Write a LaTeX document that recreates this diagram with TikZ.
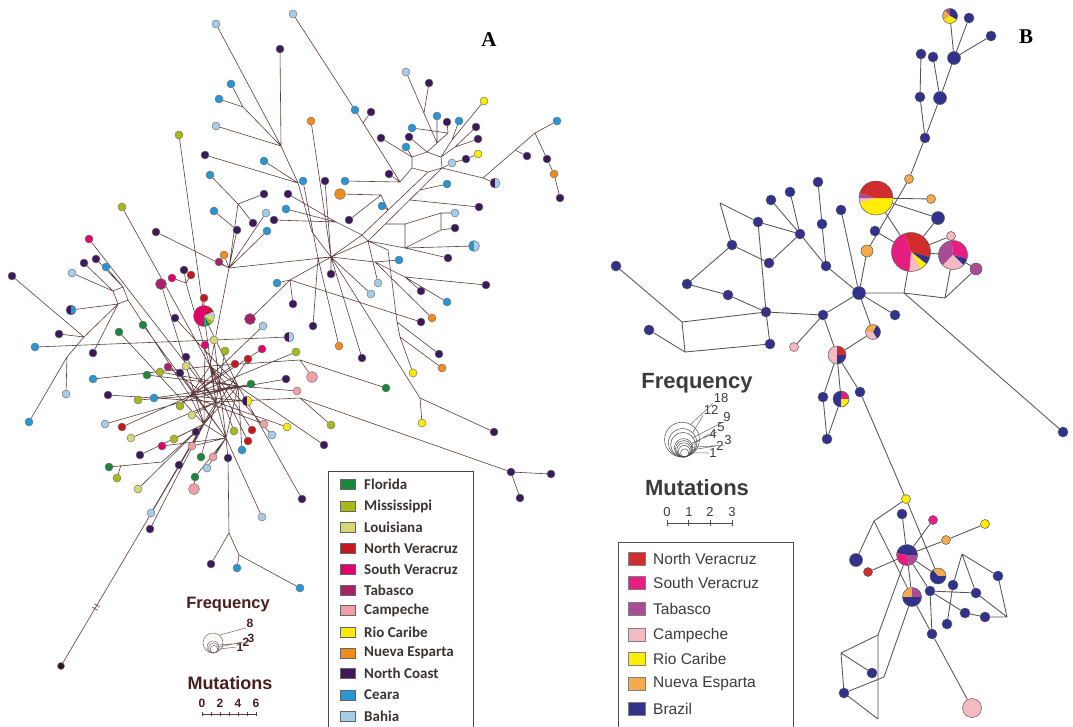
\documentclass[tikz,border=0pt]{standalone}
\usepackage{fontspec}
\setmainfont{Liberation Sans}
\newfontfamily\calib{Carlito}
\newfontfamily\serf{Liberation Serif}
\pgfdeclarelayer{paper}
\pgfdeclarelayer{bg}
\pgfsetlayers{paper,bg,main}
\definecolor{cFL}{RGB}{25,135,60}
\definecolor{cMS}{RGB}{170,185,25}
\definecolor{cLA}{RGB}{215,215,120}
\definecolor{cNV}{RGB}{195,25,30}
\definecolor{cSV}{RGB}{225,0,105}
\definecolor{cTB}{RGB}{165,35,100}
\definecolor{cCP}{RGB}{240,160,165}
\definecolor{cRC}{RGB}{250,235,0}
\definecolor{cNE}{RGB}{240,140,30}
\definecolor{cNC}{RGB}{60,25,90}
\definecolor{cCE}{RGB}{40,150,210}
\definecolor{cBA}{RGB}{165,205,235}
\definecolor{cDK}{RGB}{50,20,20}
\definecolor{bNV}{RGB}{210,45,45}
\definecolor{bSV}{RGB}{230,30,130}
\definecolor{bTB}{RGB}{170,75,150}
\definecolor{bCP}{RGB}{245,185,195}
\definecolor{bRC}{RGB}{255,238,0}
\definecolor{bNE}{RGB}{245,170,75}
\definecolor{bBR}{RGB}{50,50,140}
\definecolor{Aline}{RGB}{95,60,60}
\definecolor{Bline}{RGB}{85,85,85}
\definecolor{legAtext}{RGB}{60,52,52}
\definecolor{legBtext}{RGB}{60,60,60}
\definecolor{freqA}{RGB}{75,30,30}
\newcommand\hp[4]{\node[hap,fill=#4] (#1) at (#2,#3) {};}
\newcommand\hpb[5]{\node[hap,fill=#4,minimum size=#5pt] (#1) at (#2,#3) {};}
\newcommand\pienode[4]{\node[hap,fill=none,minimum size=#4pt] (#1) at (#2,#3) {};}
\newcommand\wedgeP[6]{\fill[#6] (#1,#2) -- ++(#4:#3) arc[start angle=#4,end angle=#5,radius=#3] -- cycle;}
\newcommand\bp[3]{\node[bhap] (#1) at (#2,#3) {};}
\newcommand\bpb[5]{\node[bhap,fill=#4,minimum size=#5pt] (#1) at (#2,#3) {};}
\newcommand\bpie[4]{\node[bhap,fill=none,minimum size=#4pt] (#1) at (#2,#3) {};}
\begin{document}
\begin{tikzpicture}[x=1pt,y=-1pt,
 hap/.style={circle,draw=black!55,line width=0.45pt,inner sep=0pt,minimum size=8pt},
 bhap/.style={circle,draw=black!65,line width=0.5pt,inner sep=0pt,minimum size=10pt,fill=bBR},
 aedge/.style={draw=Aline,line width=0.6pt},
 bedge/.style={draw=Bline,line width=0.85pt},
 legA/.style={font=\calib\bfseries\fontsize{15}{17}\selectfont,text=legAtext,anchor=west,inner sep=0pt},
 legB/.style={font=\fontsize{15.5}{18}\selectfont,text=legBtext,anchor=west,inner sep=0pt},
 swA/.style={draw=black!60,line width=0.5pt,minimum width=15pt,minimum height=10pt,inner sep=0pt},
 swB/.style={draw=black!50,line width=0.5pt,minimum width=17pt,minimum height=13pt,inner sep=0pt},
 fcA/.style={circle,draw=Aline!80,line width=0.5pt,inner sep=0pt,fill=none},
 fcB/.style={circle,draw=black!70,line width=0.5pt,inner sep=0pt,fill=none},
 fnA/.style={font=\bfseries\fontsize{12}{13}\selectfont,text=freqA,inner sep=0.3pt},
 fnB/.style={font=\fontsize{13}{14}\selectfont,text=legBtext,inner sep=0.3pt}
]
\useasboundingbox (0,0) rectangle (1073,726);
\begin{pgfonlayer}{paper}
\fill[white] (0,0) rectangle (1073,726);
\end{pgfonlayer}

% ================= PANEL A nodes =================
\hp{t1}{216}{24}{cBA}
\hp{t2}{293}{14}{cBA}
\hp{t3}{280}{49}{cNC}
\hp{t4}{231}{84}{cCE}
\hp{t5}{219}{99}{cCE}
\hp{t6}{216}{126}{cBA}
\hp{t7}{179}{135}{cMS}
\hp{t8}{205}{155}{cNC}
\hp{t9}{264}{161}{cCE}
\hp{t10}{210}{175}{cCE}
\hp{t11}{264}{194}{cNC}
\hp{t12}{288}{194}{cNC}
\hp{t13}{303}{181}{cCE}
\hp{t14}{325}{181}{cNC}
\hp{t15}{345}{181}{cCE}
\hpb{t16}{340}{194}{cNE}{11}
\hp{t17}{311}{121}{cNE}
\hp{t18}{355}{110}{cCE}
\hp{t19}{371}{112}{cNC}
\hp{t20}{406}{72}{cBA}
\hp{t21}{429}{83}{cNC}
\hp{t22}{484}{101}{cRC}
\hp{t23}{437}{116}{cCE}
\hp{t24}{447}{122}{cNC}
\hp{t25}{459}{121}{cCE}
\hp{t26}{476}{127}{cNC}
\hp{t27}{478}{139}{cNC}
\hp{t28}{478}{154}{cRC}
\hp{t29}{466}{159}{cNC}
\hp{t30}{452}{163}{cBA}
\hp{t31}{412}{128}{cCE}
\hp{t32}{409}{137}{cNC}
\hp{t33}{381}{138}{cNC}
\hp{t34}{406}{147}{cCE}
\hp{t35}{389}{174}{cNC}
\hp{t36}{447}{184}{cCE}
\hp{t37}{382}{206}{cCE}
\hp{t38}{349}{220}{cNC}
\hp{t39}{479}{207}{cNC}
\hp{t40}{455}{213}{cBA}
\hp{t41}{455}{228}{cNC}
\wedgeP{474}{246}{5.5}{90}{270}{cCE}
\wedgeP{474}{246}{5.5}{270}{450}{cBA}
\pienode{t42}{474}{246}{11}
\hp{t43}{399}{260}{cCE}
\hp{t44}{448}{258}{cNC}
\hp{t45}{486}{285}{cNC}
\hp{t46}{421}{291}{cNC}
\hp{t47}{447}{302}{cCE}
\hp{t48}{421}{322}{cNC}
\hp{t49}{432}{318}{cNE}
\hp{t50}{378}{283}{cBA}
\hp{t51}{371}{294}{cBA}
\hp{t52}{331}{274}{cNC}
\hp{t53}{293}{304}{cNC}
\hp{t54}{313}{326}{cNC}
\hp{t55}{339}{346}{cNE}
\hp{t56}{362}{358}{cNC}
\hp{t57}{439}{354}{cNC}
\hp{t58}{442}{368}{cNE}
\hp{t59}{413}{373}{cRC}
\hp{t60}{386}{388}{cFL}
\hp{t61}{331}{425}{cMS}
\hp{t62}{324}{445}{cNC}
\hp{t63}{422}{423}{cRC}
\hp{t64}{494}{432}{cNC}
\hp{t65}{511}{472}{cNC}
\hp{t66}{551}{474}{cNC}
\hp{t67}{520}{498}{cNC}
\wedgeP{495}{183}{5}{90}{270}{cNC}
\wedgeP{495}{183}{5}{270}{450}{cBA}
\pienode{t68}{495}{183}{10}
\hp{t69}{527}{156}{cNC}
\hp{t70}{557}{121}{cCE}
\hp{t71}{547}{159}{cNC}
\hp{t72}{554}{174}{cNE}
\hp{t73}{560}{198}{cNC}
\hp{t74}{214}{211}{cCE}
\hp{t75}{266}{213}{cBA}
\hp{t76}{286}{209}{cCE}
\hp{t77}{274}{220}{cNC}
\hp{t78}{253}{223}{cNC}
\hp{t79}{237}{230}{cNC}
\hp{t80}{267}{231}{cCE}
\hp{t81}{156}{232}{cNC}
\hp{t82}{122}{207}{cMS}
\hp{t83}{224}{255}{cNE}
\hp{t84}{219}{262}{cTB}
\hp{t85}{89}{239}{cSV}
\hp{t86}{84}{263}{cNC}
\hp{t87}{96}{259}{cNC}
\hp{t88}{106}{267}{cCE}
\hp{t89}{72}{273}{cBA}
\hp{t90}{12}{276}{cNC}
\wedgeP{71}{310}{5}{90}{270}{cNC}
\wedgeP{71}{310}{5}{270}{450}{cCE}
\pienode{t91}{71}{310}{10}
\hp{t92}{59}{334}{cNC}
\hp{t93}{35}{347}{cCE}
\hp{t94}{93}{353}{cNC}
\hpb{t95}{161}{284}{cTB}{11}
\hp{t96}{172}{278}{cSV}
\hp{t97}{184}{270}{cNC}
\hp{t98}{191}{275}{cNV}
\hp{t99}{204}{298}{cNV}
\wedgeP{204}{316}{10.5}{110}{300}{cSV}
\wedgeP{204}{316}{10.5}{300}{335}{cNV}
\wedgeP{204}{316}{10.5}{335}{360}{cBA}
\wedgeP{204}{316}{10.5}{0}{30}{cLA}
\wedgeP{204}{316}{10.5}{30}{55}{cMS}
\wedgeP{204}{316}{10.5}{55}{75}{cFL}
\wedgeP{204}{316}{10.5}{75}{90}{cCE}
\wedgeP{204}{316}{10.5}{90}{110}{cNV}
\pienode{tP}{204}{316}{21}
\hpb{t100}{250}{319}{cTB}{11}
\hp{t101}{175}{318}{cNC}
\hp{t102}{143}{325}{cFL}
\hp{t103}{119}{332}{cFL}
\hp{t104}{263}{326}{cBA}
\wedgeP{289}{337}{5}{90}{270}{cNC}
\wedgeP{289}{337}{5}{270}{450}{cBA}
\pienode{t105}{289}{337}{10}
\hp{t106}{205}{345}{cSV}
\hp{t107}{214}{340}{cLA}
\hp{t108}{225}{351}{cMS}
\hp{t109}{262}{349}{cSV}
\hp{t110}{296}{352}{cMS}
\hp{t111}{186}{357}{cNC}
\hp{t112}{248}{359}{cNV}
\hp{t113}{235}{364}{cNV}
\hp{t114}{277}{283}{cCE}
\hp{t115}{168}{367}{cTB}
\hp{t116}{147}{375}{cFL}
\hp{t117}{160}{372}{cMS}
\hp{t118}{180}{373}{cNC}
\hp{t119}{186}{366}{cLA}
\hp{t120}{93}{379}{cCE}
\hp{t121}{108}{395}{cNC}
\hp{t122}{138}{400}{cMS}
\hp{t123}{154}{398}{cCE}
\hp{t124}{180}{406}{cMS}
\hp{t125}{192}{415}{cLA}
\hp{t126}{66}{394}{cBA}
\hp{t127}{29}{422}{cCE}
\hp{t128}{105}{424}{cBA}
\hp{t129}{122}{427}{cNV}
\hp{t130}{131}{438}{cLA}
\hp{t131}{174}{439}{cMS}
\hp{t132}{196}{432}{cNC}
\hp{t133}{192}{446}{cCP}
\hp{t134}{162}{446}{cSV}
\hp{t135}{140}{455}{cNC}
\hp{t136}{201}{457}{cFL}
\hp{t137}{213}{457}{cCP}
\hp{t138}{228}{458}{cNC}
\hp{t139}{179}{465}{cNC}
\hp{t140}{207}{468}{cBA}
\hp{t141}{109}{467}{cFL}
\hp{t142}{117}{478}{cMS}
\hp{t143}{195}{477}{cFL}
\hpb{t144}{194}{489}{cCP}{11}
\hp{t145}{138}{489}{cLA}
\hp{t146}{151}{513}{cBA}
\hp{t147}{150}{529}{cNC}
\hp{t148}{251}{384}{cFL}
\hp{t149}{286}{379}{cNC}
\hpb{t150}{312}{377}{cCP}{11}
\hp{t151}{297}{391}{cCP}
\wedgeP{247}{401}{5}{90}{270}{cNC}
\wedgeP{247}{401}{5}{270}{450}{cRC}
\pienode{t152}{247}{401}{10}
\hp{t153}{234}{431}{cMS}
\hp{t154}{252}{430}{cNV}
\hp{t155}{264}{424}{cCP}
\hp{t156}{272}{435}{cBA}
\hp{t157}{287}{427}{cRC}
\hp{t158}{248}{441}{cNV}
\hp{t159}{242}{450}{cCE}
\hp{t160}{302}{499}{cNC}
\hp{t161}{262}{517}{cBA}
\hp{t162}{211}{564}{cNC}
\hp{t163}{237}{568}{cCE}
\hp{t164}{300}{588}{cCE}
\hpb{t165}{61}{666}{cDK}{7}

% junctions A
\coordinate (jA) at (281,146); \coordinate (jB) at (243,107);
\coordinate (jC) at (298,183); \coordinate (jD) at (312,232);
\coordinate (jD2) at (318,258); \coordinate (H0) at (331,257);
\coordinate (jI) at (400,182); \coordinate (j366) at (363,123);
\coordinate (jJ) at (238,204); \coordinate (jK) at (229,268);
\coordinate (jM) at (336,222); \coordinate (jL2) at (381,195);
\coordinate (jL) at (388,210);
\coordinate (L1) at (412,157); \coordinate (L2) at (427,152);
\coordinate (L3) at (441,157); \coordinate (L4) at (442,168);
\coordinate (L5) at (428,172); \coordinate (L6) at (412,168);
\coordinate (jE) at (362,235); \coordinate (jE2) at (368,241);
\coordinate (p420) at (420,190); \coordinate (p410) at (410,200);
\coordinate (p385) at (385,224); \coordinate (jT) at (405,224);
\coordinate (jS1) at (441,213); \coordinate (jS2) at (441,230);
\coordinate (jQ) at (405,248); \coordinate (jU) at (405,277);
\coordinate (jV) at (375,262); \coordinate (jX1) at (388,250);
\coordinate (jX2) at (397,322); \coordinate (jX3) at (400,337);
\coordinate (jY) at (420,398); \coordinate (jN) at (290,280);
\coordinate (jF) at (300,360); \coordinate (jG) at (300,398);
\coordinate (jU1) at (437,143); \coordinate (j424) at (424,113);
\coordinate (jU3) at (448,133); \coordinate (jU4) at (452,140);
\coordinate (jU5) at (455,147); \coordinate (jR1) at (483,178);
\coordinate (jR2) at (535,133); \coordinate (p515) at (515,150);
\coordinate (ul2) at (84,337); \coordinate (ul3) at (67,357);
\coordinate (ulA) at (113,291); \coordinate (ulB) at (123,287);
\coordinate (ulC) at (128,300); \coordinate (ulD) at (118,304);
\coordinate (j186) at (186,283);
\coordinate (hL) at (190,396); \coordinate (hR) at (238,386);
\coordinate (hU) at (210,366); \coordinate (hD) at (204,424);
\coordinate (hD2) at (226,438); \coordinate (hC) at (216,402);
\coordinate (jFL) at (162,462);
\coordinate (j120) at (121,465); \coordinate (jBot1) at (229,533);
\coordinate (jBot2) at (239,555);

\begin{pgfonlayer}{bg}
\draw[aedge]
(t1)--(jA) (t3)--(jA) (t4)--(jB) (t5)--(jB) (jB)--(jA) (t6)--(jA) (jA)--(jC) (t8)--(jC) (t9)--(jC) (jC)--(jD) (jD)--(H0)
(t13)--(jD2) (jD2)--(H0) (t14)--(H0) (t17)--(H0)
(t2)--(t18) (t18)--(jI) (t19)--(j366) (t15)--(jI) (t35)--(jI) (jI)--(L6)
(t7)--(hC)
(t10)--(jJ) (t11)--(jJ) (t78)--(jJ) (jJ)--(jK)
(t12)--(jM) (jM)--(jE) (t76)--(jM) (t77)--(jM)
(t74)--(t79) (t79)--(jK) (t75)--(jK) (t80)--(jK)
(t16)--(jL2) (t38)--(jL2) (jL2)--(jL) (t37)--(jL)
(L1)--(L2)--(L3)--(L4)--(L5)--(L6)--(L1)
(L5)--(jE) (L4)--(jE2) (jE)--(H0) (jE2)--(H0) (jE)--(jE2)
(t36)--(p420) (t39)--(p410) (jT)--(p385)
(jS1)--(jT) (t40)--(jS1) (t41)--(jS2) (jS1)--(jS2) (jS2)--(jQ) (jT)--(jQ) (t42)--(jQ) (t44)--(jQ) (jQ)--(jE2)
(t43)--(jV) (t49)--(jV) (jU)--(jV) (t45)--(jU) (t46)--(jU) (t47)--(jU) (jV)--(H0)
(t50)--(jE2) (t51)--(H0) (t52)--(H0)
(jX1)--(jE2) (jX1)--(jX2) (jX2)--(jX3) (jX3)--(t59) (jX2)--(t57) (jX3)--(t58)
(H0)--(jY) (jY)--(t63) (jY)--(t64)
(t48)--(jN) (t53)--(jN) (t114)--(jN) (jN)--(H0) (t100)--(jN)
(t54)--(jD2) (t55)--(jD2) (t56)--(H0)
(t60)--(jF) (jF)--(hU) (t150)--(jF)
(t65)--(jG) (jG)--(hC) (t61)--(jG) (t62)--(hR) (t66)--(t65) (t67)--(t65)
(t20)--(jU1) (t21)--(j424) (t23)--(jU1) (t31)--(jU3) (t24)--(jU3) (jU3)--(jU1) (t25)--(jU4) (t22)--(jU4) (jU4)--(L3) (t26)--(jU5) (jU5)--(L3) (t27)--(jU5) (jU1)--(L2) (t32)--(L2) (t33)--(L1) (t34)--(L1)
(t30)--(L4) (t29)--(t30) (t28)--(t29)
(t68)--(jR1) (jR1)--(L4) (jR1)--(jR2) (jR2)--(t70) (t69)--(p515) (t71)--(jR2) (t71)--(t72) (t72)--(t73)
(t90)--(ul2) (t92)--(ul2) (ul2)--(ul3) (ul3)--(t127) (ul3)--(t126) (ul2)--(ulD)
(ulA)--(ulB)--(ulC)--(ulD)--(ulA)
(t89)--(ulA) (t86)--(ulA) (t87)--(ulB) (t88)--(ulB) (t91)--(ulD) (t94)--(ulD) (ulC)--(hL)
(t85)--(hC) (t82)--(hU) (t81)--(jK)
(t95)--(hD) (t96)--(j186) (t97)--(j186) (t98)--(j186) (j186)--(hU) (t99)--(tP) (tP)--(hR)
(t101)--(hR) (t102)--(hD2) (t103)--(hD) (t93)--(t105)
(t104)--(hL) (t106)--(hD) (t107)--(hD2) (t108)--(hC) (t109)--(hL) (t110)--(hL) (t111)--(hC) (t112)--(hD) (t113)--(hL) (t115)--(hC) (t116)--(hR) (t117)--(hR) (t118)--(hD2) (t119)--(hD) (t120)--(hU) (t121)--(hC) (t122)--(hL) (t123)--(hR) (t124)--(hL) (t125)--(hC) (t128)--(hR) (t129)--(hL) (t130)--(hC) (t131)--(hD) (t132)--(hD) (t133)--(hD2) (t134)--(hD2) (t135)--(hD) (t136)--(hC) (t137)--(hD2) (t138)--(hD2) (t139)--(hC) (t140)--(hD2) (t141)--(jFL) (t142)--(j120) (jFL)--(hD) (t143)--(hD2) (t144)--(t143) (t145)--(hD) (t146)--(hC) (t147)--(hD) (t148)--(hL) (t149)--(hL) (t151)--(hR) (t152)--(hL) (t153)--(hU) (t154)--(hU) (t155)--(hL) (t156)--(hU) (t157)--(hC) (t158)--(hU) (t159)--(hR) (t160)--(hR) (t161)--(hD2)
(t138)--(jBot1) (jBot1)--(t162) (jBot1)--(jBot2) (jBot2)--(t163) (jBot2)--(t164)
(t165)--(hD) (t83)--(jK) (t84)--(jK)
(hL)--(hR) (hU)--(hL) (hU)--(hR) (hL)--(hD) (hR)--(hD) (hD)--(hD2) (hR)--(hD2) (hC)--(hU) (hC)--(hD2) (hU)--(jK) (jK)--(H0);
\draw[aedge] (92.4,607.2)--(97.6,610.2) (94.4,603.8)--(99.6,606.8);
\end{pgfonlayer}

% Legend A
\draw[draw=Aline,line width=1pt] (328,471) rectangle (473,730);
\foreach \nm/\c/\yy/\lab in {1/cFL/484/Florida,2/cMS/506/Mississippi,3/cLA/527/Louisiana,4/cNV/548/North Veracruz,5/cSV/569/South Veracruz,6/cTB/590/Tabasco,7/cCP/610/Campeche,8/cRC/632/Rio Caribe,9/cNE/653/Nueva Esparta,10/cNC/673/North Coast,11/cCE/695/Ceara,12/cBA/716/Bahia}{
  \node[swA,fill=\c] (sa\nm) at (347.5,\yy) {};
  \node[legA] (la\nm) at (364,\yy) {\lab};
}

% Frequency / Mutations A
\node[font=\bfseries\fontsize{16.5}{18}\selectfont,text=freqA] (freqAt) at (228,605) {Frequency};
\node[fcA,minimum size=20pt] (fa8) at (213,643) {};
\node[fcA,minimum size=12pt] (fa3) at (213,647) {};
\node[fcA,minimum size=10pt] (fa2) at (213.5,648) {};
\node[fcA,minimum size=7.6pt] (fa1) at (214,649.2) {};
\node[fnA] (na8) at (250,623) {8};
\node[fnA] (na3) at (251,638) {3};
\node[fnA] (na2) at (246,642) {2};
\node[fnA] (na1) at (240,647) {1};
\draw[Aline!80,line width=0.5pt] (fa8.50)--(na8.south west) (fa3.20)--(na3.south west) (fa2.10)--(na2.west) (fa1.0)--(na1.west);
\node[font=\bfseries\fontsize{18}{20}\selectfont,text=freqA] (mutAt) at (230,683) {Mutations};
\foreach \xx/\lab in {202/0,220/2,238/4,256/6}{\node[fnA] at (\xx,703) {\lab};}
\draw[Aline,line width=0.6pt] (202,714)--(256,714);
\foreach \xx in {202,211,220,229,238,247,256}{\draw[Aline,line width=0.5pt] (\xx,712)--(\xx,716);}

\node[font=\serf\bfseries\fontsize{21}{24}\selectfont] (labA) at (489,40) {A};

% ================= PANEL B nodes =================
\wedgeP{950}{16}{7.5}{270}{390}{bBR}
\wedgeP{950}{16}{7.5}{30}{150}{bRC}
\wedgeP{950}{16}{7.5}{150}{230}{bNE}
\wedgeP{950}{16}{7.5}{230}{270}{bTB}
\bpie{b1}{950}{16}{15}
\bp{b2}{969}{18}
\bp{b3}{991}{36}
\bp{b4}{921}{54}
\bp{b5}{933}{57}
\bpb{b6}{954}{58}{bBR}{13}
\bp{b7}{920}{97}
\bpb{b8}{940}{98}{bBR}{13}
\bp{b9}{925}{138}
\bpb{b10}{909}{179}{bNE}{9}
\bpb{b11}{931}{199}{bNE}{9}
\wedgeP{876}{198}{17}{0}{165}{bRC}
\wedgeP{876}{198}{17}{165}{180}{bCP}
\wedgeP{876}{198}{17}{180}{197}{bTB}
\wedgeP{876}{198}{17}{197}{360}{bNV}
\bpie{b12}{876}{198}{34}
\bpb{b13}{938}{218}{bBR}{13}
\bp{b14}{875}{231}
\bpb{b15}{867}{251}{bNE}{12}
\wedgeP{911}{252}{19.5}{250}{375}{bNV}
\wedgeP{911}{252}{19.5}{15}{38}{bBR}
\wedgeP{911}{252}{19.5}{38}{60}{bRC}
\wedgeP{911}{252}{19.5}{60}{95}{bCP}
\wedgeP{911}{252}{19.5}{95}{250}{bSV}
\bpie{b16}{911}{252}{39}
\bpb{b17}{951}{236}{bCP}{9}
\wedgeP{953}{255}{14.5}{135}{265}{bTB}
\wedgeP{953}{255}{14.5}{265}{375}{bSV}
\wedgeP{953}{255}{14.5}{15}{45}{bBR}
\wedgeP{953}{255}{14.5}{45}{135}{bCP}
\bpie{b18}{953}{255}{29}
\bpb{b19}{976}{269}{bTB}{12}
\bp{b20}{818}{182}
\bp{b21}{790}{192}
\bp{b22}{771}{200}
\bp{b23}{841}{210}
\bp{b24}{822}{224}
\bp{b25}{758}{222}
\bp{b26}{800}{234}
\bp{b27}{732}{245}
\bp{b28}{769}{263}
\bp{b29}{826}{266}
\bp{b30}{616}{266}
\bp{b31}{687}{284}
\bp{b32}{728}{295}
\bpb{b33}{859}{293}{bBR}{13}
\bp{b34}{766}{312}
\bp{b35}{823}{315}
\bp{b36}{895}{315}
\bp{b37}{649}{330}
\bp{b38}{770}{344}
\bpb{b39}{794}{347}{bCP}{9}
\wedgeP{873}{332}{7.5}{180}{300}{bNE}
\wedgeP{873}{332}{7.5}{300}{420}{bBR}
\wedgeP{873}{332}{7.5}{60}{180}{bCP}
\bpie{b40}{873}{332}{15}
\wedgeP{837}{355}{9}{90}{270}{bCP}
\wedgeP{837}{355}{9}{270}{360}{bNV}
\wedgeP{837}{355}{9}{0}{90}{bBR}
\bpie{b41}{837}{355}{18}
\bp{b42}{823}{397}
\wedgeP{841}{399}{8}{90}{270}{bBR}
\wedgeP{841}{399}{8}{270}{360}{bSV}
\wedgeP{841}{399}{8}{0}{90}{bRC}
\bpie{b43}{841}{399}{16}
\bp{b44}{860}{392}
\bp{b45}{827}{439}
\bp{b46}{1063}{432}
\bpb{b47}{906}{499}{bRC}{9}
\bp{b48}{902}{514}
\bpb{b49}{933}{520}{bSV}{9}
\bpb{b50}{985}{524}{bRC}{9}
\bpb{b51}{946}{540}{bNE}{9}
\wedgeP{907}{555}{10.5}{190}{360}{bBR}
\wedgeP{907}{555}{10.5}{0}{80}{bTB}
\wedgeP{907}{555}{10.5}{80}{190}{bSV}
\bpie{b52}{907}{555}{21}
\bpb{b53}{856}{560}{bBR}{13}
\bpb{b54}{868}{572}{bNV}{9}
\wedgeP{938}{576}{8}{230}{360}{bNE}
\wedgeP{938}{576}{8}{0}{230}{bBR}
\bpie{b55}{938}{576}{16}
\bp{b56}{953}{585}
\bp{b57}{930}{591}
\wedgeP{912}{597}{9.5}{180}{270}{bNE}
\wedgeP{912}{597}{9.5}{270}{360}{bTB}
\wedgeP{912}{597}{9.5}{0}{180}{bBR}
\bpie{b58}{912}{597}{19}
\bp{b59}{976}{593}
\bp{b60}{998}{576}
\bp{b61}{965}{613}
\bp{b62}{985}{617}
\bp{b63}{947}{624}
\bp{b64}{932}{634}
\bp{b65}{872}{673}
\bp{b66}{844}{693}
\bpb{b67}{972}{708}{bCP}{19}

\coordinate (k1) at (720,203); \coordinate (k2) at (682,322);
\coordinate (k3) at (685,352); \coordinate (k4) at (904,293);
\coordinate (k5) at (945,298); \coordinate (k6) at (874,521);
\coordinate (k7) at (962,554); \coordinate (k8) at (1007,617);
\coordinate (k9) at (878,635); \coordinate (k10) at (841,653);
\coordinate (k11) at (878,719); \coordinate (k12) at (884,677);

\begin{pgfonlayer}{bg}
\draw[bedge]
(b1)--(b6) (b2)--(b6) (b3)--(b6) (b6)--(b8) (b5)--(b8) (b4)--(b7) (b7)--(b9) (b8)--(b9) (b9)--(b10) (b10)--(b15)
(b12)--(b11) (b12)--(b13) (b12)--(b16) (b16)--(b13) (b14)--(b16) (b16)--(b17) (b16)--(b18) (b18)--(b19) (b15)--(b33) (b16)--(k4) (b18)--(k5) (k4)--(k5) (k5)--(b19) (k4)--(b33) (k4)--(b46)
(b33)--(b29) (b29)--(b24) (b24)--(b20) (b29)--(b26) (b23)--(b33) (b33)--(b36) (b33)--(b35) (b33)--(b40)
(b26)--(b21) (b26)--(b22) (b26)--(b25) (b26)--(b28) (b25)--(k1) (k1)--(b27) (b27)--(b28) (b25)--(b34) (b27)--(b31) (b31)--(b32) (b32)--(b34) (b34)--(k2) (k2)--(b30) (k2)--(k3) (k3)--(b37) (k3)--(b38) (b38)--(b34) (b34)--(b35) (b35)--(b39) (b35)--(b41) (b41)--(b40) (b41)--(b42) (b41)--(b43) (b41)--(b44) (b42)--(b45) (b43)--(b45) (b44)--(b47)
(b47)--(k6) (k6)--(b53) (k6)--(b58) (b47)--(b55) (b48)--(b52) (b52)--(b49) (b52)--(b51) (b51)--(b50) (b52)--(b54) (b52)--(b55) (b52)--(b58) (b52)--(b57) (b52)--(k9) (b57)--(b59) (b57)--(b64) (b57)--(b61) (b56)--(b63) (b56)--(k7) (k7)--(b59) (k7)--(b60) (b60)--(k8) (k8)--(b62) (b59)--(k8) (b62)--(b61) (b64)--(b67) (b58)--(b64) (b58)--(k12)
(k9)--(k10) (k10)--(b65) (k10)--(b66) (b66)--(k11) (k9)--(k11) (b66)--(k12);
\end{pgfonlayer}

% Frequency / Mutations B
\node[font=\bfseries\fontsize{22}{24}\selectfont,text=legBtext] (freqBt) at (697,383) {Frequency};
\node[fcB,minimum size=34.8pt] (fb18) at (682,439.6) {};
\node[fcB,minimum size=28.4pt] (fb12) at (682.6,442.8) {};
\node[fcB,minimum size=24.6pt] (fb9) at (683,444.7) {};
\node[fcB,minimum size=18.4pt] (fb5) at (683.6,447.8) {};
\node[fcB,minimum size=16.4pt] (fb4) at (683.8,448.8) {};
\node[fcB,minimum size=14.2pt] (fb3) at (684,449.9) {};
\node[fcB,minimum size=11.6pt] (fb2) at (684.3,451.2) {};
\node[fcB,minimum size=8.2pt] (fb1) at (684.7,452.9) {};
\node[fnB] (nb18) at (721,398) {18};
\node[fnB] (nb12) at (711,410) {12};
\node[fnB] (nb9) at (727,417) {9};
\node[fnB] (nb5) at (721,427) {5};
\node[fnB] (nb4) at (713,434) {4};
\node[fnB] (nb3) at (728,440) {3};
\node[fnB] (nb2) at (720,446) {2};
\node[fnB] (nb1) at (713,453) {1};
\draw[black!60,line width=0.5pt] (fb18.60)--(nb18.south west) (fb12.45)--(nb12.south west) (fb9.35)--(nb9.south west) (fb5.30)--(nb5.south west) (fb4.25)--(nb4.west) (fb3.20)--(nb3.south west) (fb2.10)--(nb2.west) (fb1.0)--(nb1.west);
\node[font=\bfseries\fontsize{22}{24}\selectfont,text=legBtext] (mutBt) at (697,488) {Mutations};
\foreach \xx/\lab in {667/0,689/1,710/2,732/3}{\node[fnB] at (\xx,512) {\lab};}
\draw[black!70,line width=0.6pt] (667,523)--(732,523);
\foreach \xx in {667,688.7,710.3,732}{\draw[black!70,line width=0.6pt] (\xx,520)--(\xx,526);}

% Legend B
\draw[draw=black!70,line width=1pt] (618,542) rectangle (793,730);
\foreach \nm/\c/\yy/\lab in {1/bNV/559/North Veracruz,2/bSV/583/South Veracruz,3/bTB/609/Tabasco,4/bCP/635/Campeche,5/bRC/659/Rio Caribe,6/bNE/684/Nueva Esparta,7/bBR/709/Brazil}{
  \node[swB,fill=\c] (sb\nm) at (636.5,\yy) {};
  \node[legB] (lb\nm) at (653,\yy) {\lab};
}
\node[font=\serf\bfseries\fontsize{21}{24}\selectfont] (labB) at (1026,37) {B};
\end{tikzpicture}
\end{document}
